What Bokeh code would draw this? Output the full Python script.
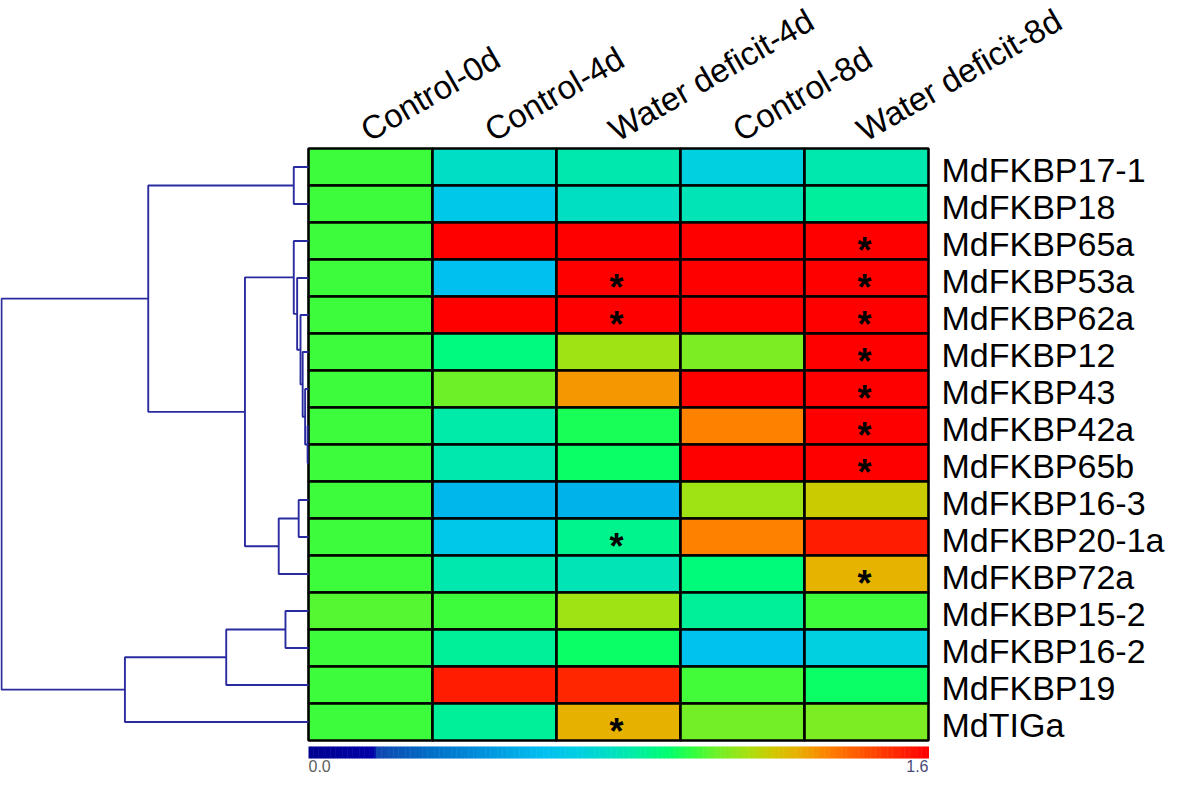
import numpy as np
from bokeh.plotting import figure
from bokeh.models import Range1d, LinearColorMapper, ColumnDataSource
from bokeh.transform import transform
from bokeh.core.properties import value
from bokeh.embed import file_html
from bokeh.resources import INLINE

# ---------------- data ----------------
genes = ["MdFKBP17-1", "MdFKBP18", "MdFKBP65a", "MdFKBP53a", "MdFKBP62a",
         "MdFKBP12", "MdFKBP43", "MdFKBP42a", "MdFKBP65b", "MdFKBP16-3",
         "MdFKBP20-1a", "MdFKBP72a", "MdFKBP15-2", "MdFKBP16-2", "MdFKBP19",
         "MdTIGa"]
conditions = ["Control-0d", "Control-4d", "Water deficit-4d", "Control-8d",
              "Water deficit-8d"]

control_0d = [1.00, 1.00, 1.00, 1.00, 1.00, 1.00, 1.00, 1.00, 1.00, 1.00,
              1.00, 1.00, 1.03, 1.00, 1.00, 1.00]
control_4d = [0.77, 0.66, 1.60, 0.61, 1.60, 0.90, 1.05, 0.83, 0.82, 0.58,
              0.66, 0.82, 1.00, 0.86, 1.54, 0.86]
water_4d = [0.82, 0.78, 1.60, 1.60, 1.60, 1.12, 1.30, 0.96, 0.94, 0.56,
            0.88, 0.80, 1.12, 0.94, 1.52, 1.26]
control_8d = [0.70, 0.80, 1.60, 1.60, 1.60, 1.07, 1.60, 1.34, 1.60, 1.12,
              1.34, 0.91, 0.86, 0.62, 1.01, 1.06]
water_8d = [0.82, 0.85, 1.60, 1.60, 1.60, 1.60, 1.60, 1.60, 1.60, 1.19,
            1.54, 1.25, 1.00, 0.70, 0.94, 1.07]

# significant cells: (gene row, condition column)
sig_rows = [2, 3, 3, 4, 4, 5, 6, 7, 8, 10, 11, 15]
sig_cols = [4, 2, 4, 2, 4, 4, 4, 4, 4, 2, 4, 2]

# hierarchical clustering of genes (scipy-style: left id, right id, height)
# leaves 0..15 in display order, merged clusters get ids 16, 17, ...
link_left = [7, 6, 5, 4, 3, 2, 0, 9, 23, 21, 22, 12, 27, 28, 26]
link_right = [8, 16, 17, 18, 19, 20, 1, 10, 11, 24, 25, 13, 14, 15, 29]
link_height = [0.003, 0.011, 0.019, 0.026, 0.037, 0.048, 0.048, 0.032, 0.097,
               0.207, 0.522, 0.075, 0.268, 0.598, 1.000]

vmin, vmax = 0.0, 1.6

# ---------------- colour map ----------------
anchors_f = [0.000, 0.104, 0.110, 0.20, 0.26, 0.38, 0.44, 0.49, 0.53, 0.58,
             0.62, 0.66, 0.71, 0.75, 0.79, 0.84, 0.90, 0.95, 1.00]
anchors_c = ["#000090", "#0000a8", "#1048b0", "#0070c8", "#0088d8", "#00c0f0",
             "#00d0e0", "#00e0c0", "#00eea0", "#00ff70", "#30ff40", "#70f028",
             "#a8e010", "#d0c800", "#e8b000", "#ff8000", "#ff5000", "#ff2800",
             "#ff0000"]


def hex2rgb(h):
    return [int(h[i:i + 2], 16) for i in (1, 3, 5)]


rgb = np.array([hex2rgb(c) for c in anchors_c], dtype=float)
ff = np.linspace(0, 1, 256)
palette = []
for t in ff:
    r = np.interp(t, anchors_f, rgb[:, 0])
    g = np.interp(t, anchors_f, rgb[:, 1])
    b = np.interp(t, anchors_f, rgb[:, 2])
    palette.append("#%02x%02x%02x" % (int(round(r)), int(round(g)), int(round(b))))

mapper = LinearColorMapper(palette=palette, low=vmin, high=vmax)

# ---------------- figure ----------------
W, H = 1166, 773
HX0, HY0 = 308, 148      # heatmap top-left in figure pixels
CW, RH = 124, 37         # cell size in pixels
FONT = value("Liberation Sans")

p = figure(width=W, height=H, output_backend="svg", toolbar_location=None,
           x_range=Range1d(-HX0 / CW, (W - HX0) / CW),
           y_range=Range1d((H - HY0) / RH, -HY0 / RH),
           x_axis_location=None, y_axis_location=None,
           min_border=0, outline_line_color=None)
p.grid.visible = False
p.background_fill_color = "white"
p.border_fill_color = "white"

# dendrogram distance range: leaves at heatmap edge, root at the left edge
DSCALE = 307.0
p.extra_x_ranges = {"dend": Range1d(HX0 / DSCALE, (HX0 - W) / DSCALE)}

# ---------------- heatmap ----------------
cols_data = [control_0d, control_4d, water_4d, control_8d, water_8d]
xs, ys, vals = [], [], []
for j, col in enumerate(cols_data):
    for i, v in enumerate(col):
        xs.append(j + 0.5)
        ys.append(i + 0.5)
        vals.append(v)
src = ColumnDataSource(dict(x=xs, y=ys, v=vals))
p.rect(x="x", y="y", width=1, height=1, source=src,
       fill_color=transform("v", mapper), line_color="black", line_width=2.6)

# asterisks
p.text(x=[c + 0.5 - 2 / CW for c in sig_cols], y=[r + 0.5 + 9 / RH for r in sig_rows],
       text=["*"] * len(sig_rows), text_align="center",
       text_baseline="middle", text_font=FONT,
       text_font_style="bold", text_font_size="36px", text_color="black")

# row labels
p.text(x=[5.0 + 13 / CW] * len(genes), y=[i + 0.5 + 3 / RH for i in range(len(genes))],
       text=genes, text_align="left", text_baseline="middle",
       text_font=FONT, text_font_size="34px", text_color="black")

# column labels (rotated)
p.text(x=[j + 0.5 - 7 / CW for j in range(len(conditions))],
       y=[-16 / RH] * len(conditions), text=conditions,
       angle=30, angle_units="deg", text_align="left",
       text_baseline="middle", text_font=FONT,
       text_font_size="33px", text_color="black")

# ---------------- dendrogram ----------------
n = len(genes)
pos = {i: i + 0.5 for i in range(n)}
hgt = {i: 0.0 for i in range(n)}
dx, dy = [], []
for k, (a, b, h) in enumerate(zip(link_left, link_right, link_height)):
    dx.append([hgt[a], h, h, hgt[b]])
    dy.append([pos[a], pos[a], pos[b], pos[b]])
    nid = n + k
    pos[nid] = (pos[a] + pos[b]) / 2
    hgt[nid] = h
p.multi_line(xs=dx, ys=dy, x_range_name="dend", line_color="#2b2ba0",
             line_width=1.9)

# ---------------- colour bar ----------------
nseg = 256
edges = np.linspace(vmin, vmax, nseg + 1)
cb_left = [e / vmax * 5 for e in edges[:-1]]
cb_right = [e / vmax * 5 + 0.004 for e in edges[1:]]
cb_val = [(a + b) / 2 for a, b in zip(edges[:-1], edges[1:])]
cb_top = 16 + 6 / RH
cb_bot = 16 + 18 / RH
cb_src = ColumnDataSource(dict(left=cb_left, right=cb_right, v=cb_val))
p.quad(left="left", right="right", top=cb_top, bottom=cb_bot, source=cb_src,
       fill_color=transform("v", mapper), line_color=None)
p.text(x=[0], y=[16 + 25 / RH], text=["%.1f" % vmin], text_align="left",
       text_baseline="middle", text_font=FONT,
       text_font_size="16px", text_color="#606060")
p.text(x=[5], y=[16 + 25 / RH], text=["%.1f" % vmax], text_align="right",
       text_baseline="middle", text_font=FONT,
       text_font_size="16px", text_color="#4a4a78")

open("out.html", "w").write(file_html(p, INLINE))
